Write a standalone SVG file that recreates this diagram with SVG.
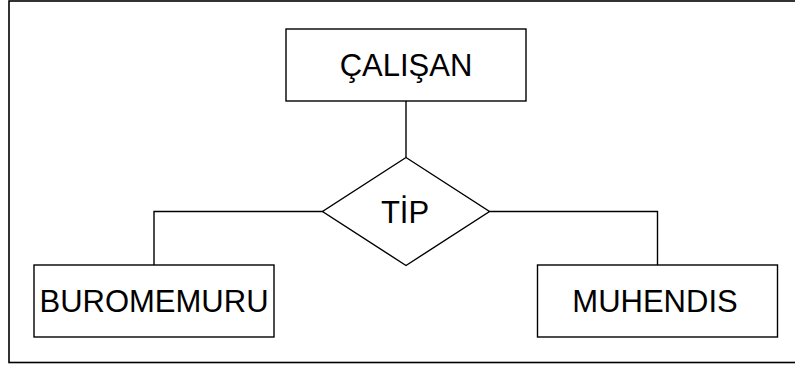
<svg xmlns="http://www.w3.org/2000/svg" width="795" height="369" viewBox="0 0 795 369">
<style>
.shape{fill:#fff;stroke:#000;stroke-width:1.4}
.edge{fill:none;stroke:#000;stroke-width:1.4}
.lbl{font-family:"Liberation Sans",Arial,sans-serif;font-size:31px;fill:#000;text-anchor:middle}
</style>
<rect x="0" y="0" width="795" height="369" fill="#fff"/>
<rect x="9" y="1" width="800" height="361.5" fill="none" stroke="#000" stroke-width="1.6"/>
<g id="connectors">
<line class="edge" x1="406" y1="101" x2="406" y2="157.5"/>
<polyline class="edge" points="322.5,211.5 154,211.5 154,265"/>
<polyline class="edge" points="489.5,211.5 657.5,211.5 657.5,265"/>
</g>
<g id="calisan">
<rect class="shape" x="286" y="29" width="240" height="72"/>
<text class="lbl" x="406" y="76">ÇALIŞAN</text>
</g>
<g id="tip">
<polygon class="shape" points="406,157.5 489.5,211.5 406,265.5 322.5,211.5"/>
<text class="lbl" x="405" y="222.5">TİP</text>
</g>
<g id="buromemuru">
<rect class="shape" x="34" y="265" width="240" height="72"/>
<text class="lbl" x="154" y="312">BUROMEMURU</text>
</g>
<g id="muhendis">
<rect class="shape" x="537.5" y="265" width="240" height="72"/>
<text class="lbl" x="655" y="312">MUHENDIS</text>
</g>
</svg>
